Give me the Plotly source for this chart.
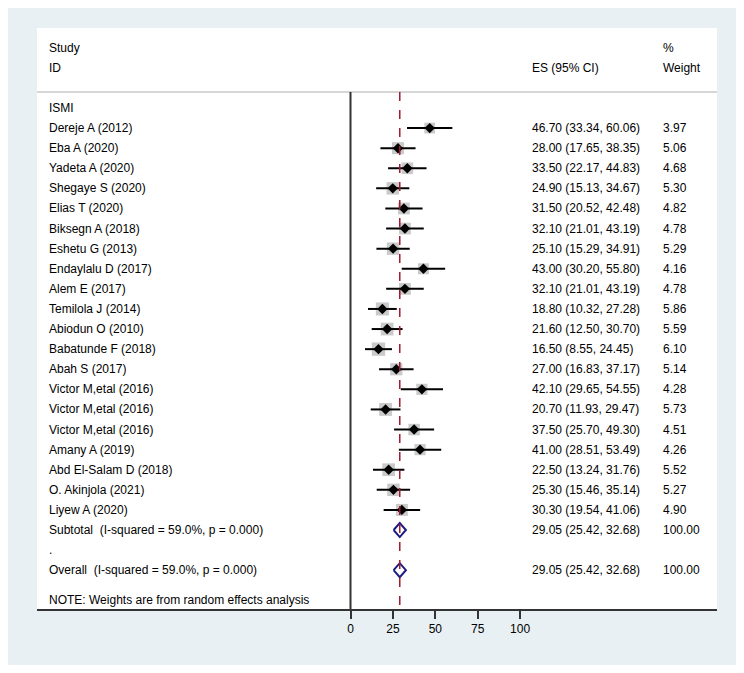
import plotly.graph_objects as go

studies = ['Dereje A (2012)', 'Eba A (2020)', 'Yadeta A (2020)', 'Shegaye S (2020)', 'Elias T (2020)',
           'Biksegn A (2018)', 'Eshetu G (2013)', 'Endaylalu D (2017)', 'Alem E (2017)', 'Temilola J (2014)',
           'Abiodun O (2010)', 'Babatunde F (2018)', 'Abah S (2017)', 'Victor M,etal (2016)',
           'Victor M,etal (2016)', 'Victor M,etal (2016)', 'Amany A (2019)', 'Abd El-Salam D (2018)',
           'O. Akinjola (2021)', 'Liyew A (2020)']
es = [46.70, 28.00, 33.50, 24.90, 31.50, 32.10, 25.10, 43.00, 32.10, 18.80,
      21.60, 16.50, 27.00, 42.10, 20.70, 37.50, 41.00, 22.50, 25.30, 30.30]
lo = [33.34, 17.65, 22.17, 15.13, 20.52, 21.01, 15.29, 30.20, 21.01, 10.32,
      12.50, 8.55, 16.83, 29.65, 11.93, 25.70, 28.51, 13.24, 15.46, 19.54]
hi = [60.06, 38.35, 44.83, 34.67, 42.48, 43.19, 34.91, 55.80, 43.19, 27.28,
      30.70, 24.45, 37.17, 54.55, 29.47, 49.30, 53.49, 31.76, 35.14, 41.06]
weight = [3.97, 5.06, 4.68, 5.30, 4.82, 4.78, 5.29, 4.16, 4.78, 5.86,
          5.59, 6.10, 5.14, 4.28, 5.73, 4.51, 4.26, 5.52, 5.27, 4.90]

pooled_labels = ['Subtotal  (I-squared = 59.0%, p = 0.000)', 'Overall  (I-squared = 59.0%, p = 0.000)']
pooled_es = [29.05, 29.05]
pooled_lo = [25.42, 25.42]
pooled_hi = [32.68, 32.68]
pooled_weight = [100.00, 100.00]
xticks = [0, 25, 50, 75, 100]

FONT = 'Liberation Sans, Arial, sans-serif'
FS = 12
study_rows = list(range(1, len(studies) + 1))
pooled_rows = [len(studies) + 1, len(studies) + 3]
sep_y = -0.8
y_bottom = 24.93

fig = go.Figure()

# header separator, zero line, pooled line
fig.add_shape(type='line', xref='paper', yref='y', x0=0, x1=1, y0=sep_y, y1=sep_y,
              line=dict(color='#c8c8c8', width=1.5))
fig.add_shape(type='line', xref='x', yref='y', x0=0, x1=0, y0=sep_y, y1=y_bottom,
              line=dict(color='#333333', width=2))
fig.add_shape(type='line', xref='x', yref='y', x0=pooled_es[1], x1=pooled_es[1], y0=sep_y, y1=y_bottom,
              line=dict(color='#a3192e', width=1.5, dash='dash'))

# weight squares
fig.add_trace(go.Scatter(x=es, y=study_rows, mode='markers',
                         marker=dict(symbol='square', color='#b4b4b4',
                                     size=[5.4 * w ** 0.5 for w in weight], line_width=0),
                         hoverinfo='skip'))
# CI lines
cx, cy = [], []
for r, a, b in zip(study_rows, lo, hi):
    cx += [a, b, None]
    cy += [r, r, None]
fig.add_trace(go.Scatter(x=cx, y=cy, mode='lines', line=dict(color='black', width=2), hoverinfo='skip'))
# point estimates
fig.add_trace(go.Scatter(x=es, y=study_rows, mode='markers',
                         marker=dict(symbol='diamond', color='black', size=8), hoverinfo='skip'))
# pooled diamonds
h = 0.35
for r, e, a, b in zip(pooled_rows, pooled_es, pooled_lo, pooled_hi):
    fig.add_trace(go.Scatter(x=[a, e, b, e, a], y=[r, r - h, r, r + h, r], mode='lines',
                             line=dict(color='#1c1c80', width=2), hoverinfo='skip'))

def txt(x, y, s):
    fig.add_annotation(xref='paper', yref='y', x=x, y=y, text=s, showarrow=False,
                       xanchor='left', yanchor='middle', font=dict(family=FONT, size=FS, color='black'))

X_LAB, X_ES, X_W = 10/680, 493/680, 624/680
txt(X_LAB, -3, 'Study')
txt(X_LAB, -2, 'ID')
txt(X_ES, -2, 'ES (95% CI)')
txt(X_W, -3, '%')
txt(X_W, -2, 'Weight')
txt(X_LAB, 0, 'ISMI')
for r, s, e, a, b, w in zip(study_rows, studies, es, lo, hi, weight):
    txt(X_LAB, r, s)
    txt(X_ES, r, f'{e:.2f} ({a:.2f}, {b:.2f})')
    txt(X_W, r, f'{w:.2f}')
for r, s, e, a, b, w in zip(pooled_rows, pooled_labels, pooled_es, pooled_lo, pooled_hi, pooled_weight):
    txt(X_LAB, r, s)
    txt(X_ES, r, f'{e:.2f} ({a:.2f}, {b:.2f})')
    txt(X_W, r, f'{w:.2f}')
txt(X_LAB, pooled_rows[0] + 1, '.')
txt(X_LAB, 24.5, 'NOTE: Weights are from random effects analysis')

# page body adds an 8px offset, so the figure is sized to fit inside it
fig.update_layout(
    width=728, height=657, showlegend=False,
    margin=dict(l=29, r=19, t=20, b=56),
    paper_bgcolor='#e8f0f3', plot_bgcolor='white',
    font=dict(family=FONT, size=FS, color='black'),
    xaxis=dict(range=[-184.85, 216.1], tickvals=xticks, ticks='outside', ticklen=8, tickwidth=2,
               tickcolor='#333333', showline=True, linecolor='#333333', linewidth=2,
               showgrid=False, zeroline=False, fixedrange=True),
    yaxis=dict(range=[y_bottom, -3.98], visible=False, showgrid=False, zeroline=False, fixedrange=True),
)

fig.write_html('out.html')
